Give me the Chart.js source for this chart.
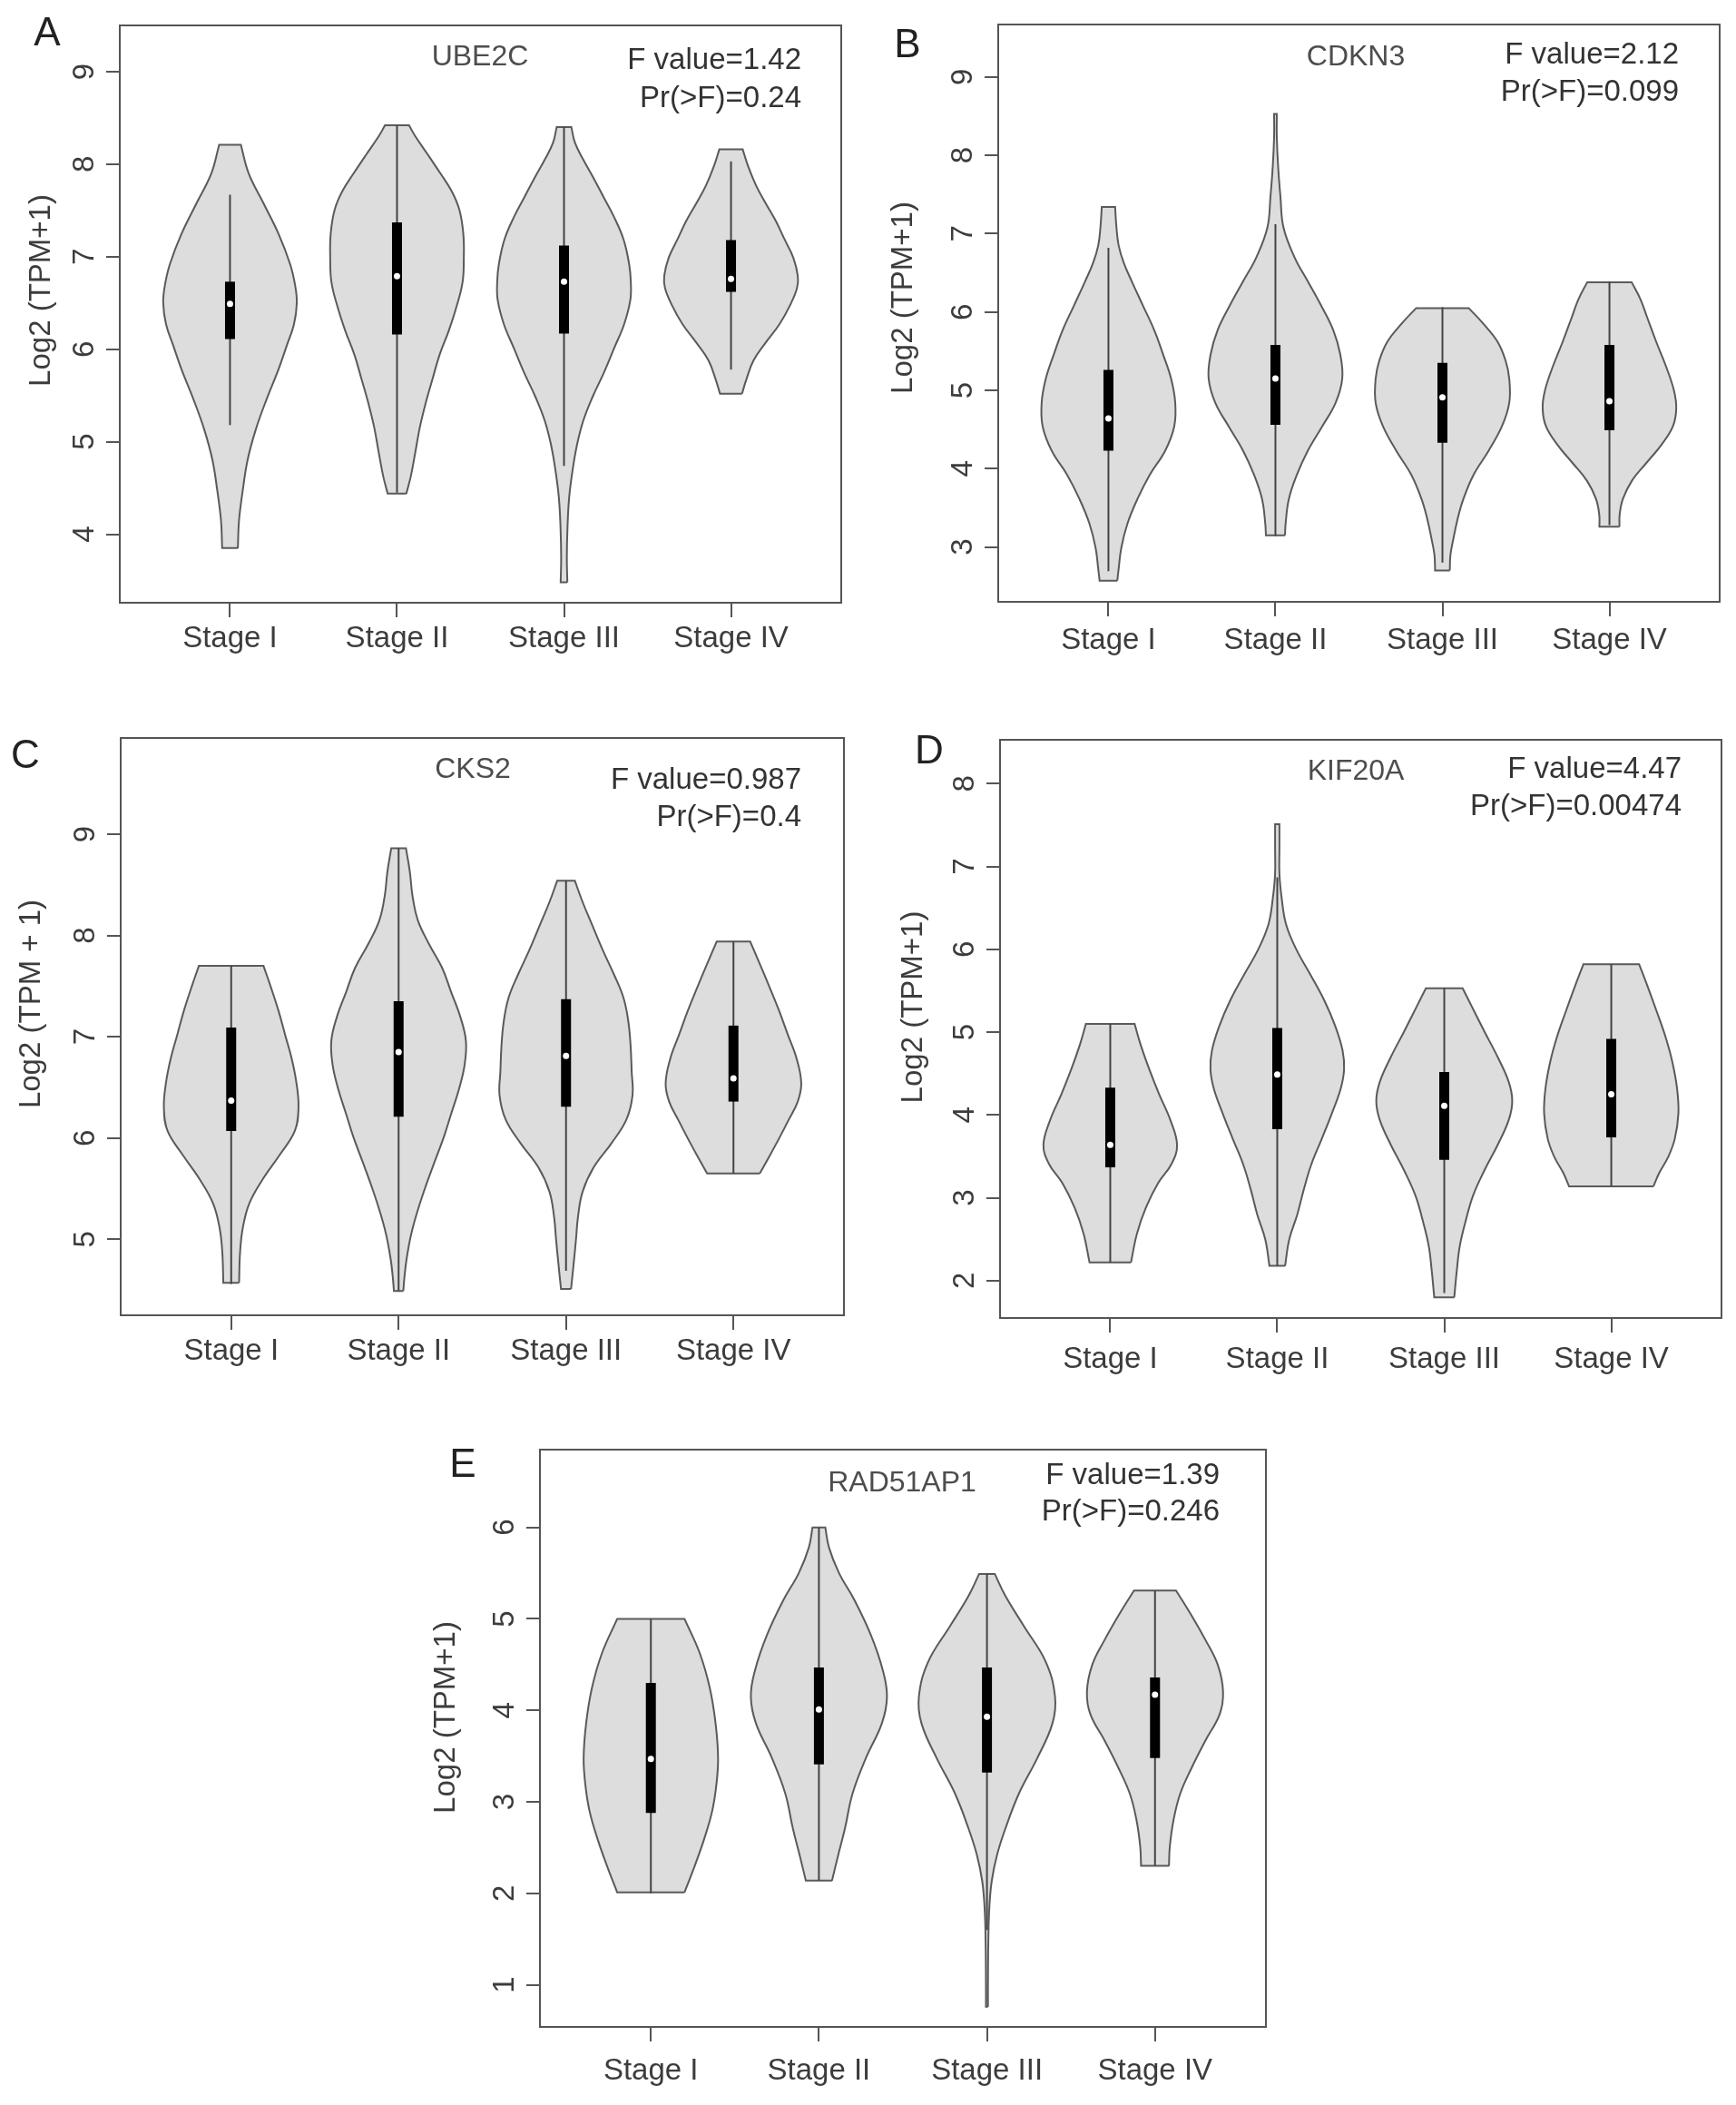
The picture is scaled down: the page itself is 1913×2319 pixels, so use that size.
<!DOCTYPE html>
<html>
<head>
<meta charset="utf-8">
<script src="https://cdn.jsdelivr.net/npm/chart.js@4.4.1/dist/chart.umd.min.js"></script>
<style>
html, body { margin: 0; padding: 0; background: #fff; }
#page { position: relative; width: 1913px; height: 2319px; overflow: hidden; }
#page canvas { position: absolute; }
.letter { position: absolute; font: 44px 'Liberation Sans', Arial, sans-serif; color: #222; line-height: 1; transform: translate(-50%, -50%); }
</style>
</head>
<body>
<div id="page"></div>
<script>
// categories shared by every panel
const stages = ['Stage I', 'Stage II', 'Stage III', 'Stage IV'];
const stagePos = [1, 2, 3, 4];
const xRange = [0.34, 4.66];

// box stats per stage: [whisker low, Q1, median, Q3, whisker high]
// violin profiles per stage: [value, half width in category units], bottom to top

// A - UBE2C
const ube2cTicks = [4, 5, 6, 7, 8, 9];
const ube2cRange = [3.26, 9.5];
const ube2cStats = ['F value=1.42', 'Pr(>F)=0.24'];
const ube2cBox = [
  [5.18, 6.11, 6.49, 6.73, 7.67],
  [4.45, 6.16, 6.79, 7.37, 8.42],
  [4.74, 6.17, 6.73, 7.12, 8.40],
  [5.78, 6.62, 6.76, 7.18, 8.03]
];
const ube2cViolins = [
  [[3.85, 0.047], [4.15, 0.054], [4.47, 0.076], [4.80, 0.105], [5.13, 0.154], [5.45, 0.217], [5.78, 0.29], [6.04, 0.34], [6.27, 0.383], [6.50, 0.40], [6.69, 0.39], [6.92, 0.36], [7.25, 0.29], [7.58, 0.20], [7.90, 0.112], [8.21, 0.065]],
  [[4.44, 0.056], [4.63, 0.083], [4.89, 0.11], [5.16, 0.137], [5.42, 0.172], [5.68, 0.213], [5.94, 0.255], [6.20, 0.31], [6.47, 0.358], [6.73, 0.393], [6.99, 0.40], [7.25, 0.397], [7.51, 0.373], [7.71, 0.327], [7.90, 0.26], [8.10, 0.186], [8.30, 0.11], [8.42, 0.072]],
  [[3.48, 0.02], [3.75, 0.017], [4.08, 0.021], [4.40, 0.031], [4.70, 0.052], [4.96, 0.077], [5.22, 0.114], [5.48, 0.17], [5.75, 0.24], [6.01, 0.30], [6.27, 0.36], [6.53, 0.397], [6.73, 0.40], [6.92, 0.39], [7.19, 0.356], [7.45, 0.294], [7.64, 0.238], [7.84, 0.18], [8.04, 0.118], [8.23, 0.066], [8.40, 0.044]],
  [[5.52, 0.066], [5.68, 0.093], [5.88, 0.135], [6.07, 0.207], [6.27, 0.29], [6.47, 0.352], [6.66, 0.395], [6.79, 0.40], [6.99, 0.373], [7.19, 0.32], [7.38, 0.27], [7.58, 0.207], [7.77, 0.15], [7.97, 0.104], [8.16, 0.07]]
];

// B - CDKN3
const cdkn3Ticks = [3, 4, 5, 6, 7, 8, 9];
const cdkn3Range = [2.30, 9.67];
const cdkn3Stats = ['F value=2.12', 'Pr(>F)=0.099'];
const cdkn3Box = [
  [2.69, 4.23, 4.64, 5.26, 6.82],
  [3.14, 4.56, 5.15, 5.58, 7.12],
  [2.80, 4.33, 4.91, 5.35, 6.06],
  [3.28, 4.49, 4.86, 5.58, 6.39]
];
const cdkn3Violins = [
  [[2.57, 0.053], [2.72, 0.061], [2.99, 0.077], [3.30, 0.114], [3.61, 0.173], [3.92, 0.247], [4.23, 0.34], [4.54, 0.394], [4.84, 0.40], [5.15, 0.375], [5.46, 0.327], [5.77, 0.274], [6.08, 0.207], [6.39, 0.14], [6.62, 0.093], [6.85, 0.061], [7.08, 0.048], [7.34, 0.04]],
  [[3.15, 0.057], [3.30, 0.061], [3.61, 0.08], [3.92, 0.128], [4.23, 0.194], [4.54, 0.28], [4.84, 0.36], [5.15, 0.40], [5.46, 0.388], [5.77, 0.346], [6.08, 0.274], [6.39, 0.194], [6.70, 0.114], [7.08, 0.048], [7.47, 0.03], [7.86, 0.016], [8.24, 0.008], [8.53, 0.008]],
  [[2.70, 0.044], [2.90, 0.048], [3.10, 0.065], [3.35, 0.09], [3.61, 0.125], [3.92, 0.186], [4.23, 0.277], [4.54, 0.356], [4.84, 0.40], [5.15, 0.40], [5.38, 0.378], [5.62, 0.33], [5.85, 0.245], [6.05, 0.157]],
  [[3.26, 0.06], [3.41, 0.061], [3.61, 0.08], [3.84, 0.133], [4.07, 0.22], [4.30, 0.31], [4.54, 0.38], [4.77, 0.40], [5.00, 0.386], [5.31, 0.338], [5.62, 0.28], [5.93, 0.226], [6.16, 0.186], [6.38, 0.133]]
];

// C - CKS2
const cks2Ticks = [5, 6, 7, 8, 9];
const cks2Range = [4.25, 9.95];
const cks2Stats = ['F value=0.987', 'Pr(>F)=0.4'];
const cks2Box = [
  [4.56, 6.07, 6.37, 7.09, 7.70],
  [4.49, 6.21, 6.85, 7.35, 8.86],
  [4.69, 6.31, 6.81, 7.37, 8.54],
  [5.65, 6.36, 6.59, 7.11, 7.94]
];
const cks2Violins = [
  [[4.57, 0.047], [4.87, 0.053], [5.11, 0.069], [5.35, 0.107], [5.59, 0.187], [5.83, 0.288], [6.07, 0.38], [6.30, 0.402], [6.54, 0.39], [6.78, 0.362], [7.02, 0.322], [7.26, 0.282], [7.50, 0.235], [7.70, 0.193]],
  [[4.49, 0.028], [4.63, 0.035], [4.81, 0.048], [5.05, 0.075], [5.29, 0.115], [5.53, 0.163], [5.77, 0.216], [6.01, 0.27], [6.24, 0.314], [6.48, 0.36], [6.72, 0.394], [6.96, 0.402], [7.20, 0.368], [7.44, 0.314], [7.68, 0.26], [7.92, 0.18], [8.15, 0.115], [8.39, 0.083], [8.63, 0.067], [8.86, 0.044]],
  [[4.51, 0.03], [4.75, 0.045], [4.99, 0.059], [5.23, 0.072], [5.47, 0.099], [5.71, 0.165], [5.95, 0.272], [6.18, 0.36], [6.42, 0.397], [6.66, 0.392], [6.90, 0.386], [7.14, 0.373], [7.38, 0.344], [7.62, 0.285], [7.86, 0.218], [8.10, 0.157], [8.33, 0.099], [8.54, 0.053]],
  [[5.65, 0.157], [5.83, 0.218], [6.01, 0.277], [6.18, 0.33], [6.36, 0.384], [6.54, 0.405], [6.78, 0.378], [7.02, 0.325], [7.26, 0.272], [7.50, 0.213], [7.74, 0.152], [7.94, 0.10]]
];

// D - KIF20A
const kif20aTicks = [2, 3, 4, 5, 6, 7, 8];
const kif20aRange = [1.55, 8.53];
const kif20aStats = ['F value=4.47', 'Pr(>F)=0.00474'];
const kif20aBox = [
  [2.22, 3.37, 3.64, 4.33, 5.10],
  [2.18, 3.83, 4.49, 5.05, 6.87],
  [1.85, 3.46, 4.11, 4.52, 5.53],
  [3.14, 3.73, 4.25, 4.92, 5.82]
];
const kif20aViolins = [
  [[2.22, 0.124], [2.57, 0.16], [2.88, 0.213], [3.18, 0.287], [3.41, 0.367], [3.64, 0.40], [3.94, 0.36], [4.25, 0.293], [4.55, 0.234], [4.86, 0.18], [5.10, 0.146]],
  [[2.18, 0.047], [2.50, 0.072], [2.80, 0.12], [3.11, 0.16], [3.41, 0.205], [3.71, 0.266], [4.02, 0.327], [4.32, 0.38], [4.55, 0.40], [4.78, 0.391], [5.08, 0.346], [5.39, 0.28], [5.69, 0.20], [6.00, 0.114], [6.30, 0.053], [6.61, 0.027], [6.91, 0.013], [7.22, 0.013], [7.51, 0.013]],
  [[1.80, 0.06], [2.12, 0.075], [2.42, 0.093], [2.72, 0.128], [3.03, 0.173], [3.33, 0.24], [3.64, 0.32], [3.94, 0.386], [4.17, 0.407], [4.40, 0.386], [4.70, 0.32], [5.01, 0.24], [5.31, 0.165], [5.53, 0.11]],
  [[3.14, 0.253], [3.30, 0.287], [3.49, 0.34], [3.71, 0.38], [4.02, 0.402], [4.32, 0.394], [4.63, 0.367], [4.93, 0.327], [5.24, 0.274], [5.54, 0.22], [5.82, 0.167]]
];

// E - RAD51AP1
const rad51ap1Ticks = [1, 2, 3, 4, 5, 6];
const rad51ap1Range = [0.54, 6.85];
const rad51ap1Stats = ['F value=1.39', 'Pr(>F)=0.246'];
const rad51ap1Box = [
  [2.00, 2.88, 3.47, 4.30, 5.00],
  [2.14, 3.41, 4.01, 4.47, 6.00],
  [1.60, 3.32, 3.93, 4.47, 5.49],
  [2.30, 3.48, 4.17, 4.36, 5.31]
];
const rad51ap1Violins = [
  [[2.01, 0.20], [2.32, 0.265], [2.61, 0.32], [2.90, 0.365], [3.19, 0.39], [3.48, 0.40], [3.86, 0.385], [4.25, 0.35], [4.63, 0.29], [5.00, 0.20]],
  [[2.14, 0.078], [2.42, 0.115], [2.71, 0.155], [3.09, 0.20], [3.48, 0.28], [3.86, 0.375], [4.15, 0.405], [4.44, 0.38], [4.82, 0.31], [5.21, 0.21], [5.50, 0.12], [5.78, 0.06], [6.00, 0.038]],
  [[0.76, 0.006], [0.98, 0.006], [1.46, 0.008], [1.84, 0.014], [2.13, 0.028], [2.42, 0.06], [2.71, 0.11], [3.09, 0.19], [3.48, 0.30], [3.86, 0.39], [4.15, 0.405], [4.53, 0.35], [4.92, 0.22], [5.25, 0.11], [5.49, 0.047]],
  [[2.30, 0.083], [2.51, 0.088], [2.80, 0.11], [3.09, 0.15], [3.38, 0.22], [3.67, 0.30], [3.96, 0.385], [4.20, 0.405], [4.49, 0.375], [4.77, 0.30], [5.06, 0.21], [5.31, 0.125]]
];

const FONT = "'Liberation Sans', Arial, Helvetica, sans-serif";
Chart.defaults.font.family = FONT;

// page layout of each panel (plot box in px, text offsets from the box)
const panels = [
  { letter: 'A', gene: 'UBE2C', yTitle: 'Log2 (TPM+1)', ticks: ube2cTicks, range: ube2cRange, stats: ube2cStats, boxes: ube2cBox, violins: ube2cViolins,
    box: { l: 132, t: 28, w: 795, h: 636 }, txt: { gx: 397, gy: 35, fx: 751, fy: 39, py: 81, lx: -86, ly: -26 }, xPad: 4, lp: [52, 35] },
  { letter: 'B', gene: 'CDKN3', yTitle: 'Log2 (TPM+1)', ticks: cdkn3Ticks, range: cdkn3Range, stats: cdkn3Stats, boxes: cdkn3Box, violins: cdkn3Violins,
    box: { l: 1100, t: 27, w: 795, h: 636 }, txt: { gx: 394, gy: 36, fx: 750, fy: 34, py: 75, lx: -104, ly: -17 }, xPad: 7, lp: [1000, 48] },
  { letter: 'C', gene: 'CKS2', yTitle: 'Log2 (TPM + 1)', ticks: cks2Ticks, range: cks2Range, stats: cks2Stats, boxes: cks2Box, violins: cks2Violins,
    box: { l: 133, t: 813, w: 797, h: 636 }, txt: { gx: 388, gy: 35, fx: 750, fy: 47, py: 88, lx: -98, ly: -25 }, xPad: 4, lp: [28, 831] },
  { letter: 'D', gene: 'KIF20A', yTitle: 'Log2 (TPM+1)', ticks: kif20aTicks, range: kif20aRange, stats: kif20aStats, boxes: kif20aBox, violins: kif20aViolins,
    box: { l: 1102, t: 815, w: 795, h: 637 }, txt: { gx: 392, gy: 35, fx: 751, fy: 33, py: 74, lx: -95, ly: -24 }, xPad: 10, lp: [1024, 826] },
  { letter: 'E', gene: 'RAD51AP1', yTitle: 'Log2 (TPM+1)', ticks: rad51ap1Ticks, range: rad51ap1Range, stats: rad51ap1Stats, boxes: rad51ap1Box, violins: rad51ap1Violins,
    box: { l: 595, t: 1597, w: 800, h: 636 }, txt: { gx: 399, gy: 37, fx: 749, fy: 29, py: 69, lx: -103, ly: -23 }, xPad: 13, lp: [510, 1612] }
];

// closed outline of one violin; the four corners are repeated so the flat ends stay straight
function outline(c, prof) {
  const right = prof.map(([y, w]) => ({ x: c + w, y: y }));
  const left = prof.map(([y, w]) => ({ x: c - w, y: y })).reverse();
  return [...right, right[right.length - 1], left[0], ...left, left[left.length - 1], right[0]];
}

function panelDecor(p) {
  return {
    id: 'panelDecor',
    afterDraw(chart) {
      const { ctx, chartArea: a } = chart;
      const t = p.txt;
      ctx.save();
      ctx.strokeStyle = '#555';
      ctx.lineWidth = 2;
      ctx.strokeRect(a.left, a.top, a.right - a.left, a.bottom - a.top);
      ctx.textBaseline = 'middle';
      ctx.fillStyle = '#4d4d4d';
      ctx.font = '32px ' + FONT;
      ctx.textAlign = 'center';
      ctx.fillText(p.gene, a.left + t.gx, a.top + t.gy);
      ctx.fillStyle = '#333';
      ctx.font = '33px ' + FONT;
      ctx.textAlign = 'right';
      ctx.fillText(p.stats[0], a.left + t.fx, a.top + t.fy);
      ctx.fillText(p.stats[1], a.left + t.fx, a.top + t.py);
      ctx.translate(a.left + t.lx, (a.top + a.bottom) / 2 + t.ly);
      ctx.rotate(-Math.PI / 2);
      ctx.textAlign = 'center';
      ctx.fillStyle = '#3c3c3c';
      ctx.fillText(p.yTitle, 0, 0);
      ctx.restore();
    }
  };
}

function makePanel(p) {
  const page = document.getElementById('page');
  const cv = document.createElement('canvas');
  cv.width = p.box.w + 150;
  cv.height = p.box.h + 120;
  cv.style.left = (p.box.l - 130) + 'px';
  cv.style.top = (p.box.t - 20) + 'px';
  page.appendChild(cv);

  const lt = document.createElement('div');
  lt.className = 'letter';
  lt.textContent = p.letter;
  lt.style.left = p.lp[0] + 'px';
  lt.style.top = p.lp[1] + 'px';
  page.appendChild(lt);

  const datasets = [];
  p.violins.forEach((prof, i) => {
    const c = stagePos[i];
    const [lo, q1, med, q3, hi] = p.boxes[i];
    datasets.push({ label: stages[i], data: outline(c, prof), showLine: true, fill: 'shape', tension: 0.4,
      backgroundColor: '#dddddd', borderColor: '#5a5a5a', borderWidth: 2, pointRadius: 0, order: 3 });
    datasets.push({ data: [{ x: c, y: lo }, { x: c, y: hi }], showLine: true,
      borderColor: '#444', borderWidth: 2, pointRadius: 0, order: 2 });
    datasets.push({ data: [{ x: c, y: q1 }, { x: c, y: q3 }], showLine: true,
      borderColor: '#000', borderWidth: 11, borderCapStyle: 'butt', pointRadius: 0, order: 1 });
    datasets.push({ data: [{ x: c, y: med }], pointRadius: 3.5, pointBackgroundColor: '#fff', pointBorderWidth: 0, order: 0 });
  });

  new Chart(cv, {
    type: 'scatter',
    data: { datasets: datasets },
    options: {
      responsive: false,
      animation: false,
      devicePixelRatio: 1,
      events: [],
      layout: { padding: { left: 0, top: 20, right: 20, bottom: 0 } },
      plugins: { legend: { display: false }, tooltip: { enabled: false } },
      scales: {
        x: {
          type: 'linear',
          min: xRange[0],
          max: xRange[1],
          afterBuildTicks: (s) => { s.ticks = stagePos.map(v => ({ value: v })); },
          afterFit: (s) => { s.height = 100; s.paddingLeft = 0; s.paddingRight = 0; },
          ticks: {
            autoSkip: false, maxRotation: 0, padding: p.xPad, color: '#3c3c3c',
            font: { size: 33 },
            callback: (v) => stages[stagePos.indexOf(v)]
          },
          grid: { drawOnChartArea: false, drawTicks: true, tickLength: 16, color: '#555', lineWidth: 2 },
          border: { display: false }
        },
        y: {
          type: 'linear',
          min: p.range[0],
          max: p.range[1],
          afterBuildTicks: (s) => { s.ticks = p.ticks.map(v => ({ value: v })); },
          afterFit: (s) => { s.width = 130; s.paddingTop = 0; s.paddingBottom = 0; },
          ticks: {
            autoSkip: false, minRotation: 90, maxRotation: 90, crossAlign: 'center', padding: 14,
            color: '#3c3c3c', font: { size: 33 },
            callback: (v) => String(v)
          },
          grid: { drawOnChartArea: false, drawTicks: true, tickLength: 15, color: '#555', lineWidth: 2 },
          border: { display: false }
        }
      }
    },
    plugins: [panelDecor(p)]
  });
}

panels.forEach(makePanel);
</script>
</body>
</html>
